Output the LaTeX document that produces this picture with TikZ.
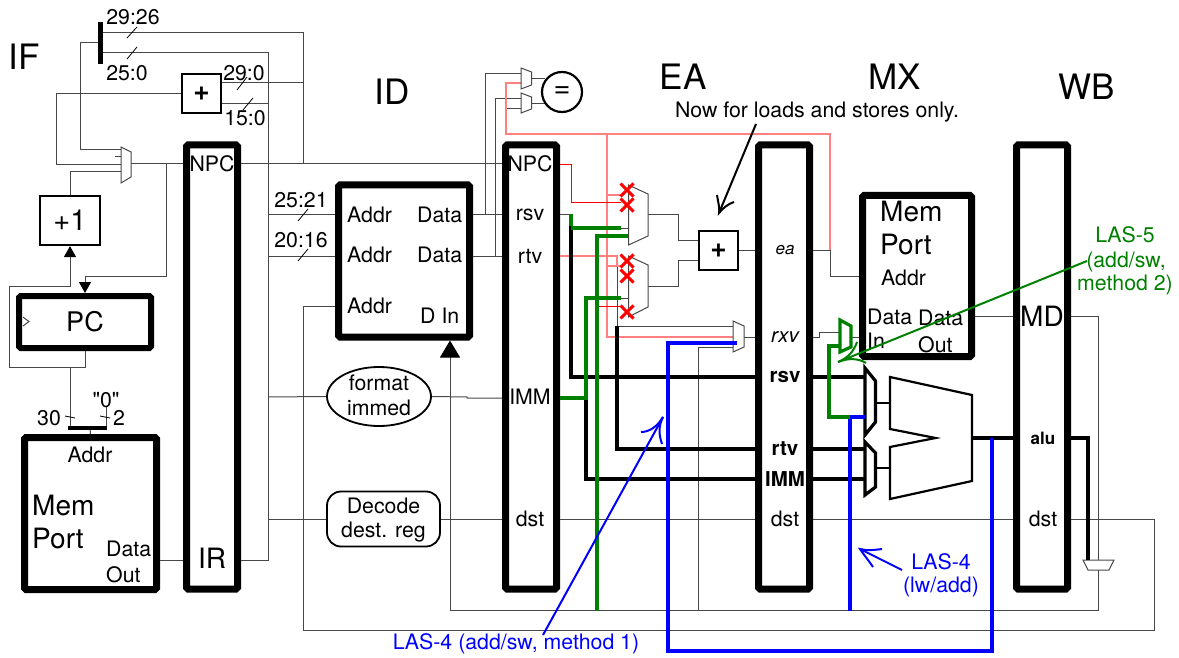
\documentclass[tikz,border=0pt]{standalone}
\usepackage{fontspec}
\setmainfont{TeX Gyre Heros}
\newfontfamily\plainquote{TeX Gyre Heros}
\usetikzlibrary{arrows.meta,shapes.geometric,shapes.misc}
\definecolor{lasgreen}{rgb}{0,0.5,0}
\tikzset{
	pipereg/.style={draw,line width=7pt,rounded corners=1.5pt,minimum width=51pt,minimum height=444pt,inner sep=0pt},
	membox/.style={draw,line width=7pt,rounded corners=1.5pt,inner sep=0pt},
	addbox/.style={draw,line width=2.2pt,minimum width=39pt,minimum height=39pt,inner sep=0pt,font=\fontsize{28}{28}\selectfont\bfseries},
	lbl/.style={inner sep=0pt,font=\fontsize{21.3}{24}\selectfont},
	biglbl/.style={inner sep=0pt,font=\fontsize{28}{33}\selectfont},
	stagelbl/.style={inner sep=0pt,font=\fontsize{35}{38}\selectfont},
	boldlbl/.style={inner sep=0pt,font=\fontsize{20.5}{24}\selectfont\bfseries},
	wire/.style={line width=1pt,black!72},
	redwire/.style={line width=0.8pt,draw=red},
	pinkwire/.style={line width=1.2pt,red!50},
	thickwire/.style={line width=3.5pt,black},
	greenwire/.style={line width=4pt,lasgreen},
	bluewire/.style={line width=4pt,blue},
	muxpoly/.style={line width=1pt,black!72,fill=white},
	aluinput/.style={line width=3.2pt,black},
	tickmark/.style={line width=0.8pt,black},
	killx/.style={cross out,draw=red,line width=3pt,minimum size=10pt,inner sep=0pt},
}
\begin{document}
\begin{tikzpicture}[x=1pt,y=-1pt]
	\useasboundingbox (0,0) rectangle (1179,658);

	\node[pipereg] (ifid) at (212,367) {};
	\node[pipereg] (idea) at (531,367) {};
	\node[pipereg] (eamx) at (784,367) {};
	\node[pipereg] (mxwb) at (1042,367) {};
	\node[membox,line width=6pt,minimum width=132pt,minimum height=52pt] (pc) at (85,322) {};
	\node[membox,minimum width=132pt,minimum height=152pt] (imem) at (90.5,513.5) {};
	\node[membox,minimum width=131pt,minimum height=152pt] (regfile) at (404,261) {};
	\node[membox,minimum width=109pt,minimum height=161pt] (dmem) at (917,276) {};
	\node[addbox,minimum width=60pt,minimum height=49pt,font=\fontsize{29}{29}\selectfont] (incr) at (70,220.5) {+1};
	\node[addbox] (addfetch) at (201.5,93.5) {+};
	\node[addbox] (addea) at (718.5,250.5) {+};
	\node[draw,ellipse,line width=1.8pt,minimum width=104pt,minimum height=59pt,inner sep=0pt] (fmtimm) at (379,396.5) {};
	\node[draw,rounded corners=14pt,line width=1.8pt,minimum width=113pt,minimum height=55pt,inner sep=0pt] (decdst) at (383.5,519) {};

	\coordinate (muxa) at (121,150);
	\coordinate (muxb) at (121,165);
	\coordinate (muxc) at (121,172);
	\coordinate (muxout) at (131,164);
	\coordinate (splita) at (100,33);
	\coordinate (splitb) at (100,43);
	\coordinate (splitc) at (100,53);
	\coordinate (joina) at (70,428);
	\coordinate (joinb) at (106,428);
	\coordinate (zeroin) at (106,407);
	\coordinate (topsel) at (521,74);
	\coordinate (botsel) at (521,99);
	\coordinate (rxvin) at (733,326);
	\coordinate (rxvfwd) at (733,337);
	\coordinate (rxvmd) at (733,347);
	\coordinate (rxvblue) at (737,343);
	\coordinate (rxvout) at (744,337);
	\coordinate (wbalu) at (1088,560);
	\coordinate (dmemdata) at (840,332);
	\coordinate (dmemfwd) at (840,346);
	\coordinate (aluin) at (865,417);
	\coordinate (tipnow) at (719,213);
	\coordinate (tipfive) at (838,362);
	\coordinate (tipone) at (663,417);
	\coordinate (tipfour) at (860,549);

	\draw[wire] (splitb) -- (80,43) -- (80,150) -- (muxa);
	\draw[wire] (splita) -- (303,33) -- (303,164);
	\draw[wire] (splitc) -- (268,53) -- (268,560) -- (ifid.east |- 0,560);
	\draw[wire] (addfetch.west) -- (56,93.5) -- (56,165) -- (muxb);
	\draw[wire] (115,157) -- (121,157);
	\draw[wire] (incr.north) -- (70,172) -- (muxc);
	\draw[wire] (muxout) -- (ifid.west |- muxout);
	\draw[wire] (ifid.east |- muxout) -- (idea.west |- muxout);
	\draw[wire,-{Triangle[width=12pt,length=11pt,black]}] (166,164) -- (166,276) -- (85,276) -- (pc.north);
	\draw[wire,-{Triangle[width=12pt,length=11pt,black]}] (pc.south) -- (85,367) -- (9,367) -- (9,286) -- (70,286) -- (incr.south);
	\draw[wire] (70,367) -- (joina);
	\draw[wire] (zeroin) -- (joinb);
	\draw[wire] (90,428) -- (imem.north);
	\draw[wire] (imem.east |- 0,560) -- (ifid.west |- 0,560);
	\draw[wire] (addfetch.east |- 0,83) -- (303,83);
	\draw[wire] (addfetch.east |- 0,104) -- (268,104);
	\draw[wire] (268,215) -- (regfile.west |- 0,215);
	\draw[wire] (268,256) -- (regfile.west |- 0,256);
	\draw[wire] (regfile.east |- 0,215) -- (idea.west |- 0,215);
	\draw[wire] (regfile.east |- 0,256) -- (idea.west |- 0,256);
	\draw[wire] (485,215) -- (485,74) -- (topsel);
	\draw[wire] (495,256) -- (495,99) -- (botsel);
	\draw[wire] (506,109) -- (521,109);
	\draw[wire] (531,79) -- (545,79);
	\draw[wire] (531,104) -- (545,104);
	\draw[wire] (268,397) -- (fmtimm.west);
	\draw[wire] (fmtimm.east) -- (467,397) -- (467,398) -- (idea.west |- 0,398);
	\draw[wire] (268,519) -- (decdst.west);
	\draw[wire] (decdst.east) -- (idea.west |- decdst);
	\draw[wire] (idea.east |- decdst) -- (eamx.west |- decdst);
	\draw[wire] (eamx.east |- decdst) -- (mxwb.west |- decdst);
	\draw[wire] (mxwb.east |- decdst) -- (1154,519) -- (1154,630.5) -- (303,630.5) -- (303,306) -- (regfile.west |- 0,306);
	\draw[wire,-{Triangle[width=20pt,length=17pt,black]}] (mxwb.east |- 0,316) -- (1098,316) -- (1098,610) -- (450,610) -- (450,0 |- regfile.south);
	\draw[wire] (dmem.east |- 0,316) -- (mxwb.west |- 0,316);
	\draw[wire] (698,610) -- (698,347) -- (rxvmd);
	\draw[wire] (617,326) -- (rxvin);
	\draw[wire] (idea.east |- 0,215) -- (571,215);
	\draw[wire] (648,215) -- (678,215) -- (678,240.5) -- (addea.west |- 0,240.5);
	\draw[wire] (648,286) -- (678,286) -- (678,260.5) -- (addea.west |- 0,260.5);
	\draw[wire] (addea.east) -- (eamx.west |- addea);
	\draw[wire] (rxvout) -- (eamx.west |- rxvout);
	\draw[wire] (eamx.east |- 0,250) -- (830,250) -- (830,276) -- (dmem.west |- 0,276);
	\draw[wire] (eamx.east |- 0,337) -- (819,337) -- (819,332) -- (dmemdata);
	\draw[wire] (851,337) -- (dmem.west |- 0,337);
	\draw[wire] (621,228) -- (628,228);
	\draw[wire] (621,298) -- (628,298);
	\draw[wire] (617,266) -- (617,326);

	\draw[pinkwire] (521,83) -- (506,83) -- (506,134) -- (830,134) -- (830,250);
	\draw[pinkwire] (607,134) -- (607,337) -- (rxvfwd);
	\draw[pinkwire] (607,195) -- (621,195);
	\draw[pinkwire] (607,266) -- (621,266);
	\draw[pinkwire] (idea.east |- 0,256) -- (617,256) -- (617,266);
	\draw[redwire] (idea.east |- 0,164) -- (571,164) -- (571,202) -- (621,202);
	\draw[redwire] (597,306) -- (621,306);

	\draw[muxpoly] (121,147) -- (131,152) -- (131,177) -- (121,183) -- cycle;
	\draw[muxpoly] (521,68) -- (531.5,72) -- (531.5,85) -- (521,89) -- cycle;
	\draw[muxpoly] (521,93) -- (531.5,97) -- (531.5,109) -- (521,113) -- cycle;
	\draw[muxpoly] (628.5,185) -- (648,194) -- (648,236) -- (628.5,245) -- cycle;
	\draw[muxpoly] (628.5,256) -- (648,265) -- (648,307) -- (628.5,317) -- cycle;
	\draw[muxpoly] (733,321) -- (744,326) -- (744,347) -- (733,352) -- cycle;
	\draw[muxpoly] (1083,560) -- (1114,560) -- (1109,570) -- (1088,570) -- cycle;

	\draw[thickwire] (571,226) -- (571,377) -- (eamx.west |- 0,377);
	\draw[thickwire] (eamx.east |- 0,377) -- (865,377);
	\draw[thickwire] (617,326) -- (617,449) -- (eamx.west |- 0,449);
	\draw[thickwire] (eamx.east |- 0,449) -- (865,449);
	\draw[thickwire] (586,398) -- (586,479) -- (eamx.west |- 0,479);
	\draw[thickwire] (eamx.east |- 0,479) -- (865,479);
	\draw[thickwire] (972,438) -- (mxwb.west |- 0,438);
	\draw[thickwire] (mxwb.east |- 0,438) -- (1088,438) -- (wbalu);
	\draw[line width=4.5pt] (100.5,22) -- (100.5,64);
	\draw[line width=3.5pt] (68,428) -- (107,428);

	\draw[aluinput] (865,368) -- (875.5,381) -- (875.5,422) -- (865,435) -- cycle;
	\draw[aluinput] (865,442) -- (875.5,453) -- (875.5,487) -- (865,495) -- cycle;
	\draw[line width=2.5pt] (875.5,403) -- (890,403);
	\draw[line width=2.5pt] (875.5,468) -- (890,468);
	\draw[line width=2.2pt] (890,377) -- (972,395) -- (972,481) -- (890,499) -- (890,447) -- (935.5,438) -- (890,429) -- cycle;

	\draw[greenwire] (571,214) -- (571,226);
	\draw[greenwire] (571,228) -- (621,228);
	\draw[greenwire] (597,611) -- (597,236) -- (628,236);
	\draw[greenwire] (idea.east |- 0,398) -- (586,398) -- (586,298) -- (621,298);
	\draw[bluewire,line width=3.5pt] (aluin) -- (850,417) -- (850,611);
	\draw[greenwire] (850,417) -- (829,417) -- (829,346) -- (dmemfwd);
	\draw[greenwire,line width=3.2pt] (840,320) -- (851,326) -- (851,347) -- (840,352) -- cycle;
	\draw[bluewire] (rxvblue) -- (668,343) -- (668,651) -- (992,651) -- (992,438);

	\node[draw,circle,fill=white,line width=2.2pt,minimum size=40pt,inner sep=0pt,font=\fontsize{29}{29}\selectfont] (eq) at (562,92) {=};

	\node[killx] (xa) at (627,190) {};
	\node[killx] (xb) at (627,205) {};
	\node[killx] (xc) at (627,261) {};
	\node[killx] (xd) at (627,276) {};
	\node[killx] (xe) at (627,312) {};

	\draw[tickmark] (127,38) -- (137,27);
	\draw[tickmark] (127,59) -- (137,47);
	\draw[tickmark] (237,90) -- (247,77);
	\draw[tickmark] (243,110) -- (253,98);
	\draw[tickmark] (298,221) -- (308,209);
	\draw[tickmark] (298,261) -- (308,249);
	\draw[tickmark] (65,416) -- (75,418);
	\draw[tickmark] (100,416) -- (110,418);
	\draw[wire] (23,317) -- (29,321.5) -- (23,326);

	\node[stagelbl] (stif) at (24,57) {IF};
	\node[stagelbl] (stid) at (392,92) {ID};
	\node[stagelbl] (stea) at (683,77) {EA};
	\node[stagelbl] (stmx) at (895,77) {MX};
	\node[stagelbl] (stwb) at (1087,87) {WB};
	\node[biglbl,font=\fontsize{27}{30}\selectfont] (pctext) at (85,322) {PC};
	\node[biglbl] (irtext) at (212,558) {IR};
	\node[biglbl] (mdtext) at (1042,316) {MD};
	\node[biglbl,anchor=west] (memi) at (32,506) {Mem};
	\node[biglbl,anchor=west] (porti) at (32,539) {Port};
	\node[biglbl,anchor=west] (memd) at (880,212) {Mem};
	\node[biglbl,anchor=west] (portd) at (880,245) {Port};

	\node[lbl] (bita) at (133,17) {29:26};
	\node[lbl] (bitb) at (127,73) {25:0};
	\node[lbl] (bitc) at (244,73) {29:0};
	\node[lbl] (bitd) at (245,118) {15:0};
	\node[lbl] (bite) at (301,200) {25:21};
	\node[lbl] (bitf) at (301,240) {20:16};
	\node[lbl] (zero) at (106,400) {\plainquote "0"};
	\node[lbl] (widtha) at (49,418) {30};
	\node[lbl] (widthb) at (119,418) {2};
	\node[lbl] (addri) at (90,455) {Addr};
	\node[lbl,anchor=west] (datai) at (106,549) {Data};
	\node[lbl,anchor=west] (outi) at (106,575) {Out};
	\node[lbl] (npca) at (212,164) {NPC};
	\node[lbl] (npcb) at (530,164) {NPC};
	\node[lbl] (rsvb) at (530,215) {rsv};
	\node[lbl] (rtvb) at (530,256) {rtv};
	\node[lbl] (immb) at (530,397) {IMM};
	\node[lbl] (dstb) at (530,519) {dst};
	\node[lbl,anchor=west] (addra) at (347,215) {Addr};
	\node[lbl,anchor=west] (addrb) at (347,255) {Addr};
	\node[lbl,anchor=west] (addrc) at (347,306) {Addr};
	\node[lbl,anchor=west] (dataa) at (417,215) {Data};
	\node[lbl,anchor=west] (datab) at (417,255) {Data};
	\node[lbl,anchor=west] (din) at (420,316) {D In};
	\node[lbl] (fmttop) at (379,383) {format};
	\node[lbl] (fmtbot) at (379,408) {immed};
	\node[lbl] (dectop) at (383.5,506) {Decode};
	\node[lbl] (decbot) at (383.5,532) {dest. reg};
	\node[lbl,font=\fontsize{17}{20}\selectfont\itshape] (eatext) at (785,250) {ea};
	\node[lbl,font=\fontsize{20.5}{24}\selectfont\itshape] (rxvtext) at (785,337) {rxv};
	\node[boldlbl] (rsvc) at (785,377) {rsv};
	\node[boldlbl] (rtvc) at (785,449) {rtv};
	\node[boldlbl] (immc) at (785,479) {IMM};
	\node[lbl] (dstc) at (785,519) {dst};
	\node[lbl,anchor=west] (addrd) at (881,278) {Addr};
	\node[lbl,anchor=west] (datad) at (867,317) {Data};
	\node[lbl,anchor=west] (ind) at (867,341) {In};
	\node[lbl,anchor=west] (datao) at (918,318) {Data};
	\node[lbl,anchor=west] (outd) at (918,345) {Out};
	\node[boldlbl,font=\fontsize{17}{20}\selectfont\bfseries] (alutext) at (1043,438) {alu};
	\node[lbl] (dstd) at (1043,519) {dst};
	\node[lbl] (nowtext) at (817,112) {Now for loads and stores only.};

	\draw[line width=2pt] (756,124) -- (tipnow);
	\draw[line width=2pt] (717,195) .. controls (718,202) and (720,208) .. (tipnow) .. controls (723,208) and (728,204) .. (734,202);

	\node[lbl,text=lasgreen] (lasfivea) at (1125,235) {LAS-5};
	\node[lbl,text=lasgreen] (lasfiveb) at (1126,262) {(add/sw,};
	\node[lbl,text=lasgreen] (lasfivec) at (1125,285) {method 2)};
	\draw[lasgreen,line width=2pt] (1087,261) -- (tipfive);
	\draw[lasgreen,line width=2pt] (857,342) .. controls (854,351) and (848,358) .. (tipfive) .. controls (848,358) and (858,358) .. (866,363);

	\node[lbl,text=blue] (lasoneb) at (516,644) {LAS-4 (add/sw, method 1)};
	\draw[blue,line width=2pt] (543,635) -- (tipone);
	\draw[blue,line width=2pt] (641,432) .. controls (649,432) and (657,427) .. (tipone) .. controls (658,427) and (659,435) .. (662,444);

	\node[lbl,text=blue] (lasfoura) at (941,562) {LAS-4};
	\node[lbl,text=blue] (lasfourb) at (941,587) {(lw/add)};
	\draw[blue,line width=2pt] (902,570) -- (tipfour);
	\draw[blue,line width=2pt] (882,549) .. controls (874,550) and (867,551) .. (tipfour) .. controls (864,555) and (869,561) .. (873,567);
\end{tikzpicture}
\end{document}
